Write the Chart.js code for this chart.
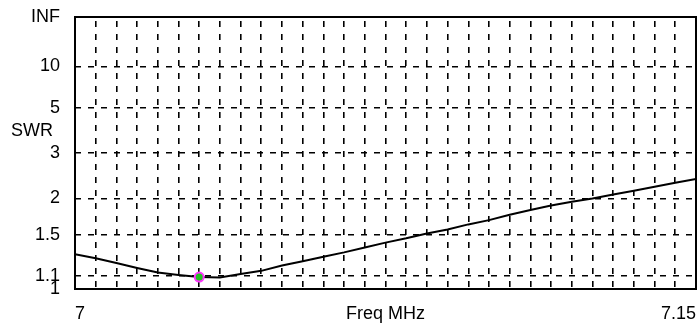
<!DOCTYPE html>
<html>
<head>
<meta charset="utf-8">
<script src="https://cdn.jsdelivr.net/npm/chart.js@4/dist/chart.umd.min.js"></script>
<style>
  html, body { margin: 0; padding: 0; background: #fff; }
  canvas { display: block; }
</style>
</head>
<body>
<canvas id="swr" width="697" height="329"></canvas>
<script>
// Frequency sweep (MHz) and measured SWR at each step
const freqMHz = [
  7.000, 7.005, 7.010, 7.015, 7.020, 7.025, 7.030, 7.035, 7.040, 7.045,
  7.050, 7.055, 7.060, 7.065, 7.070, 7.075, 7.080, 7.085, 7.090, 7.095,
  7.100, 7.105, 7.110, 7.115, 7.120, 7.125, 7.130, 7.135, 7.140, 7.145,
  7.150
];
const swr = [
  1.292, 1.255, 1.211, 1.168, 1.129, 1.109, 1.092, 1.088, 1.117, 1.143,
  1.189, 1.228, 1.269, 1.311, 1.360, 1.411, 1.458, 1.513, 1.561, 1.623,
  1.678, 1.752, 1.819, 1.886, 1.944, 1.997, 2.065, 2.130, 2.203, 2.281,
  2.358
];

// Frequency of the marked sweep point
const markerFreq = 7.030;

// SWR axis ticks, bottom to top
const swrTickValues = [1, 1.1, 1.5, 2, 3, 5, 10, Infinity];
const swrTickLabels = ['1', '1.1', '1.5', '2', '3', '5', '10', 'INF'];

// X axis labels: first, middle and last grid line
const xFirstLabel = '7';
const xMiddleLabel = 'Freq MHz';
const xLastLabel = '7.15';

// SWR is plotted on a reflection-coefficient scale: rho = (S-1)/(S+1)
function rho(s) {
  return isFinite(s) ? (s - 1) / (s + 1) : 1;
}

const FONT = { family: "'Liberation Sans', Arial, sans-serif", size: 18 };
const DASH = [6, 7];

// Keep the plot frame where the layout padding puts it
function noLabelOverflow(s) {
  s.paddingTop = 0;
  s.paddingBottom = 0;
  s.paddingLeft = 0;
  s.paddingRight = 0;
}

const isMarker = (c) => Math.abs(freqMHz[c.dataIndex] - markerFreq) < 1e-9;

const framePlugin = {
  id: 'frame',
  beforeDatasetsDraw(chart) {
    const { ctx, chartArea: a } = chart;
    ctx.save();
    ctx.strokeStyle = '#000';
    ctx.lineWidth = 2;
    ctx.strokeRect(a.left, a.top, a.right - a.left, a.bottom - a.top);
    ctx.restore();
  },
  afterDraw(chart) {
    const { ctx } = chart;
    const y = chart.scales.y;
    ctx.save();
    ctx.font = `${FONT.size}px ${FONT.family}`;
    ctx.fillStyle = '#000';
    ctx.textAlign = 'right';
    ctx.textBaseline = 'middle';
    ctx.fillText('SWR', 53, y.getPixelForValue(0.58));
    ctx.restore();
  }
};

new Chart(document.getElementById('swr'), {
  type: 'line',
  data: {
    datasets: [
      {
        label: 'SWR',
        data: freqMHz.map((f, i) => ({ x: f, y: rho(swr[i]) })),
        borderColor: '#000',
        borderWidth: 2,
        tension: 0,
        fill: false,
        pointRadius: (c) => (isMarker(c) ? 4.5 : 0),
        pointBackgroundColor: '#22c022',
        pointBorderColor: '#ff33ff',
        pointBorderWidth: 2
      }
    ]
  },
  options: {
    responsive: false,
    devicePixelRatio: 1,
    animation: false,
    layout: { padding: { top: 17, right: 1, left: 0, bottom: 0 } },
    plugins: {
      legend: { display: false },
      tooltip: { enabled: false }
    },
    scales: {
      x: {
        type: 'linear',
        position: 'bottom',
        min: 7,
        max: 7.15,
        grid: { color: '#000', lineWidth: 1.6, drawTicks: false },
        border: { display: false, dash: DASH, dashOffset: 9 },
        ticks: {
          stepSize: 0.005,
          autoSkip: false,
          maxRotation: 0,
          minRotation: 0,
          align: 'inner',
          padding: 14,
          color: '#000',
          font: FONT,
          callback: (v, i, ticks) => {
            if (i === 0) return xFirstLabel;
            if (i === ticks.length - 1) return xLastLabel;
            if (i === Math.round((ticks.length - 1) / 2)) return xMiddleLabel;
            return '';
          }
        },
        afterFit: (s) => { s.height = 40; noLabelOverflow(s); }
      },
      y: {
        type: 'linear',
        min: 0,
        max: 1,
        grid: { color: '#000', lineWidth: 1.6, drawTicks: false },
        border: { display: false, dash: DASH, dashOffset: 0 },
        afterBuildTicks: (s) => {
          s.ticks = swrTickValues.map(v => ({ value: rho(v) }));
        },
        ticks: {
          autoSkip: false,
          padding: 15,
          color: '#000',
          font: FONT,
          callback: (v, i) => swrTickLabels[i]
        },
        afterFit: (s) => { s.width = 75; noLabelOverflow(s); }
      }
    }
  },
  plugins: [framePlugin]
});
</script>
</body>
</html>
